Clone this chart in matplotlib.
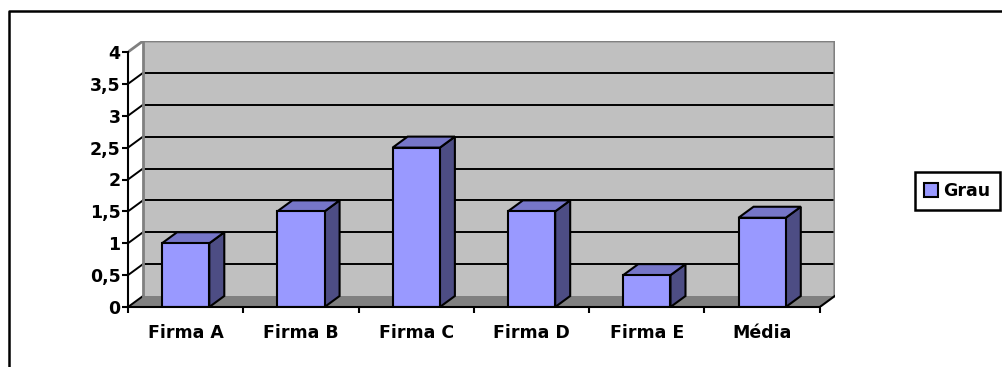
"""
Gráfico de barras 3D (estilo Excel): grau por firma e média.
"""
import numpy as np
import matplotlib
matplotlib.use("Agg")
import matplotlib.pyplot as plt
from matplotlib.patches import Polygon, Rectangle, Patch
from matplotlib.lines import Line2D

# Dados
categorias = ["Firma A", "Firma B", "Firma C", "Firma D", "Firma E", "Média"]
grau = [1.0, 1.5, 2.5, 1.5, 0.5, 1.4]
yticks = np.arange(0, 4.01, 0.5)
serie = "Grau"

# Layout (pixels)
W, H = 1003, 367
X0, Y0 = 128, 307          # canto frontal inferior esquerdo
CAT_PX, VAL_PX = 115.3, 63.75
DEPTH_X, DEPTH_Y = 15, 11
DX = DEPTH_X / CAT_PX
DY = DEPTH_Y / VAL_PX
LARG = 0.41
YMAX = 4.0
n = len(categorias)

FRENTE, TOPO, LADO = "#9999FF", "#7676C8", "#4D4D84"
PAREDE, CHAO, BORDA = "#C0C0C0", "#808080", "#808080"

plt.rcParams["font.family"] = "DejaVu Sans"
plt.rcParams["font.weight"] = "bold"
FS = 12.5

fig = plt.figure(figsize=(W / 100, H / 100), dpi=100)
ax = fig.add_axes([X0 / W, (H - Y0) / H,
                   (n * CAT_PX + DEPTH_X) / W, (YMAX * VAL_PX + DEPTH_Y) / H])
ax.set_xlim(-0.5, n - 0.5 + DX)
ax.set_ylim(0, YMAX + DY)
ax.patch.set_visible(False)

x_esq, x_dir = -0.5, n - 0.5

# Parede de fundo
ax.add_patch(Rectangle((x_esq + DX, DY), n, YMAX, facecolor=PAREDE,
                       edgecolor="none", zorder=0))
# Chão
ax.add_patch(Polygon([(x_esq, 0), (x_dir, 0), (x_dir + DX, DY), (x_esq + DX, DY)],
                     closed=True, facecolor=CHAO, edgecolor="none", zorder=0.5))

# Linhas de grade (fundo + parede lateral)
for v in yticks[1:-1]:
    ax.plot([x_esq + DX, x_dir + DX], [v + DY, v + DY], color="black", lw=1.4, zorder=0.6)
for v in yticks[:-1]:
    ax.plot([x_esq, x_esq + DX], [v, v + DY], color="black", lw=1.4, zorder=0.6)

# Bordas da parede
ax.plot([x_esq, x_esq + DX, x_dir + DX, x_dir + DX],
        [YMAX, YMAX + DY, YMAX + DY, DY], color=BORDA, lw=2, zorder=0.7,
        solid_joinstyle="miter")
ax.plot([x_esq + DX, x_esq + DX], [DY, YMAX + DY], color=BORDA, lw=2, zorder=0.7)
# Aresta direita do chão
ax.plot([x_dir, x_dir + DX], [0, DY], color="black", lw=1.5, zorder=0.8)

# Barras 3D
for i, v in enumerate(grau):
    a, b = i - LARG / 2, i + LARG / 2
    ax.add_patch(Polygon([(b, 0), (b + DX, DY), (b + DX, v + DY), (b, v)], closed=True,
                         facecolor=LADO, edgecolor="black", lw=1.5, zorder=3,
                         joinstyle="miter"))
    ax.add_patch(Polygon([(a, v), (b, v), (b + DX, v + DY), (a + DX, v + DY)], closed=True,
                         facecolor=TOPO, edgecolor="black", lw=1.5, zorder=3,
                         joinstyle="miter"))
    ax.add_patch(Rectangle((a, 0), LARG, v, facecolor=FRENTE, edgecolor="black",
                           lw=1.5, zorder=3.1, joinstyle="miter"))

# Eixos
for s in ["top", "right"]:
    ax.spines[s].set_visible(False)
ax.spines["left"].set_bounds(0, YMAX)
ax.spines["bottom"].set_bounds(x_esq, x_dir)
for s in ["left", "bottom"]:
    ax.spines[s].set_linewidth(1.5)
    ax.spines[s].set_zorder(4)

ax.set_yticks(yticks)
ax.set_yticklabels([f"{v:g}".replace(".", ",") for v in yticks])
ax.tick_params(axis="y", length=4.3, width=1.5, pad=1, labelsize=FS)

ax.set_xticks(np.arange(-0.5, n, 1))
ax.set_xticklabels([])
ax.set_xticks(range(n), minor=True)
ax.set_xticklabels(categorias, minor=True)
ax.tick_params(axis="x", which="major", length=4.3, width=1.5)
ax.tick_params(axis="x", which="minor", length=0, pad=12, labelsize=FS)

# Legenda
leg = ax.legend(handles=[Patch(facecolor=FRENTE, edgecolor="black", lw=1.5, label=serie)],
                loc="center", bbox_to_anchor=(957.5 / W, 1 - 191 / H),
                bbox_transform=fig.transFigure, fontsize=FS, fancybox=False,
                framealpha=1, handlelength=0.8, handleheight=0.8,
                handletextpad=0.3, borderpad=0.55, borderaxespad=0)
leg.get_frame().set_edgecolor("black")
leg.get_frame().set_linewidth(1.8)

# Moldura da área do gráfico
fig.add_artist(Line2D([9.5 / W, 9.5 / W, 1.0], [0, 1 - 11.3 / H, 1 - 11.3 / H],
                      transform=fig.transFigure, color="black", lw=1.8))

fig.savefig("out.png", dpi=100)
